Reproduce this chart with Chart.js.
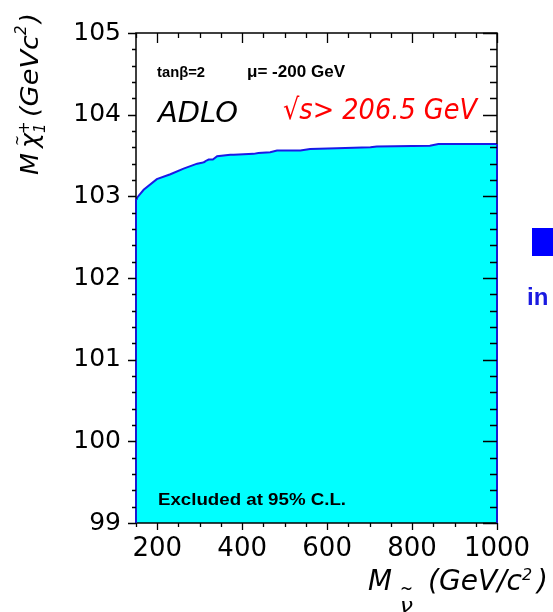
<!DOCTYPE html>
<html>
<head>
<meta charset="utf-8">
<script src="https://cdn.jsdelivr.net/npm/chart.js@4"></script>
<style>
  html, body { margin: 0; padding: 0; background: #ffffff; }
  canvas { display: block; }
</style>
</head>
<body>
<canvas id="c" width="553" height="612"></canvas>
<script>
// Sneutrino mass (GeV/c^2) along the exclusion boundary
const massGeV = [150, 152, 168, 199, 231, 262, 294, 305, 311, 313, 321, 331, 341, 372, 380,
                 427, 438, 466, 482, 537, 560, 623, 702, 717, 842, 862, 1000];
// Chargino mass limit (GeV/c^2) at each sneutrino mass
const charginoLimit = [102.97, 102.98, 103.08, 103.21, 103.27, 103.34, 103.40, 103.41, 103.42,
                       103.43, 103.45, 103.45, 103.49, 103.51, 103.51, 103.52, 103.53, 103.54,
                       103.56, 103.56, 103.58, 103.59, 103.60, 103.61, 103.62, 103.64, 103.64];
// Labelled tick values
const xTickValues = [200, 400, 600, 800, 1000];
const yTickValues = [99, 100, 101, 102, 103, 104, 105];

const SANS = '"DejaVu Sans", sans-serif';
const ARIAL = '"Liberation Sans", Arial, sans-serif';

function drawText(ctx, str, x, y, font, color, fitWidth) {
  ctx.save();
  ctx.font = font;
  ctx.fillStyle = color;
  ctx.textAlign = 'left';
  ctx.textBaseline = 'alphabetic';
  if (fitWidth) {
    const w = ctx.measureText(str).width;
    ctx.translate(x, y);
    ctx.scale(fitWidth / w, 1);
    ctx.fillText(str, 0, 0);
  } else {
    ctx.fillText(str, x, y);
  }
  ctx.restore();
}

// Frame with ticks: outward on left/bottom, inward on top/right
const framePlugin = {
  id: 'frame',
  afterDatasetsDraw(chart) {
    const { ctx, chartArea: a, scales: { x, y } } = chart;
    ctx.save();
    ctx.strokeStyle = '#000';
    ctx.lineWidth = 1.5;
    ctx.strokeRect(a.left, a.top, a.right - a.left, a.bottom - a.top);

    // blue edges of the excluded region
    ctx.strokeStyle = '#1a1ad0';
    ctx.lineWidth = 2;
    const yb = y.getPixelForValue(y.min);
    const n = massGeV.length - 1;
    ctx.beginPath();
    ctx.moveTo(x.getPixelForValue(massGeV[0]), yb);
    ctx.lineTo(x.getPixelForValue(massGeV[0]), y.getPixelForValue(charginoLimit[0]));
    ctx.moveTo(x.getPixelForValue(massGeV[n]), yb);
    ctx.lineTo(x.getPixelForValue(massGeV[n]), y.getPixelForValue(charginoLimit[n]));
    ctx.stroke();

    ctx.strokeStyle = '#000';
    ctx.lineWidth = 1.3;
    ctx.beginPath();
    for (let v = x.min; v <= x.max; v += 50) {
      const px = Math.round(x.getPixelForValue(v)) + 0.5;
      const major = xTickValues.includes(v);
      ctx.moveTo(px, a.bottom);
      ctx.lineTo(px, a.bottom + (major ? 7 : 4));
      ctx.moveTo(px, a.top);
      ctx.lineTo(px, a.top + (major ? 10 : 5));
    }
    for (let i = 0; i <= 30; i++) {
      const v = y.min + i * 0.2;
      const py = Math.round(y.getPixelForValue(v)) + 0.5;
      const major = i % 5 === 0;
      ctx.moveTo(a.left - (major ? 8 : 4), py);
      ctx.lineTo(a.left, py);
      ctx.moveTo(a.right - (major ? 14 : 7), py);
      ctx.lineTo(a.right, py);
    }
    ctx.stroke();
    ctx.restore();
  }
};

// Axis titles and annotations
const labelPlugin = {
  id: 'labels',
  afterDraw(chart) {
    const ctx = chart.ctx;

    drawText(ctx, 'tan\u03B2=2', 157, 77, 'bold 14px ' + ARIAL, '#000', 48);
    drawText(ctx, '\u03BC= -200 GeV', 247, 77, 'bold 16px ' + ARIAL, '#000', 98);
    drawText(ctx, 'ADLO', 158, 122, 'oblique 28px ' + SANS, '#000', 80);
    drawText(ctx, '\u221As> 206.5 GeV', 283, 119, 'oblique 29px ' + SANS, '#ff0000', 194);
    drawText(ctx, 'Excluded at 95% C.L.', 158, 505, 'bold 17px ' + ARIAL, '#000', 188);

    // x-axis title: M with sneutrino subscript, (GeV/c^2)
    drawText(ctx, 'M', 368, 590, 'oblique 28px ' + SANS, '#000', 24);
    drawText(ctx, '~', 400, 595, '20px ' + SANS, '#000', 13);
    drawText(ctx, '\u03BD', 400, 612, 'oblique 20px ' + SANS, '#000', 13);
    drawText(ctx, '(GeV/c', 428, 590, 'oblique 28px ' + SANS, '#000', 94);
    drawText(ctx, '2', 522, 580, 'oblique 16px ' + SANS, '#000');
    drawText(ctx, ')', 537, 590, 'oblique 28px ' + SANS, '#000');

    // y-axis title, rotated: M chargino (GeVc^2)
    ctx.save();
    ctx.translate(38, 175);
    ctx.rotate(-Math.PI / 2);
    drawText(ctx, 'M', 0, 0, 'oblique 25px ' + SANS, '#000', 22);
    drawText(ctx, '\u03C7', 27, 0, 'oblique 25px ' + SANS, '#000', 15);
    drawText(ctx, '~', 29, -16, '16px ' + SANS, '#000', 11);
    drawText(ctx, '+', 41, -9, '15px ' + SANS, '#000');
    drawText(ctx, '1', 42, 7, 'oblique 15px ' + SANS, '#000');
    drawText(ctx, '(GeVc', 58, 0, 'oblique 25px ' + SANS, '#000', 82);
    drawText(ctx, '2', 140, -12, 'oblique 15px ' + SANS, '#000');
    drawText(ctx, ')', 152, 0, 'oblique 25px ' + SANS, '#000');
    ctx.restore();

    // neighbouring slide content at the right edge
    ctx.fillStyle = '#0000ff';
    ctx.fillRect(532, 228, 21, 28);
    drawText(ctx, 'in', 527, 305, 'bold 24px ' + ARIAL, '#1a1ae0');
  }
};

new Chart(document.getElementById('c'), {
  type: 'line',
  data: {
    datasets: [{
      data: massGeV.map((m, i) => ({ x: m, y: charginoLimit[i] })),
      borderColor: '#1a1ae6',
      borderWidth: 2,
      backgroundColor: '#00ffff',
      fill: 'start',
      pointRadius: 0,
      tension: 0
    }]
  },
  options: {
    responsive: false,
    animation: false,
    devicePixelRatio: 1,
    layout: { padding: { left: 0, right: 56, top: 33, bottom: 0 } },
    plugins: { legend: { display: false }, tooltip: { enabled: false } },
    scales: {
      x: {
        type: 'linear',
        min: 150,
        max: 1000,
        afterBuildTicks: s => { s.ticks = xTickValues.map(v => ({ value: v })); },
        afterFit: s => { s.height = 89; s.paddingLeft = 0; s.paddingRight = 0; },
        grid: { display: false, drawTicks: false },
        border: { display: false },
        ticks: {
          font: { family: 'DejaVu Sans', size: 26 }, color: '#000', padding: 11,
          maxRotation: 0, autoSkip: false, callback: v => String(v)
        }
      },
      y: {
        type: 'linear',
        min: 99,
        max: 105,
        afterBuildTicks: s => { s.ticks = yTickValues.map(v => ({ value: v })); },
        afterFit: s => { s.width = 136; s.paddingTop = 0; s.paddingBottom = 0; },
        grid: { display: false, drawTicks: false },
        border: { display: false },
        ticks: {
          font: { family: 'DejaVu Sans', size: 25 }, color: '#000', padding: 15,
          autoSkip: false, callback: v => String(v)
        }
      }
    }
  },
  plugins: [framePlugin, labelPlugin]
});
</script>
</body>
</html>
